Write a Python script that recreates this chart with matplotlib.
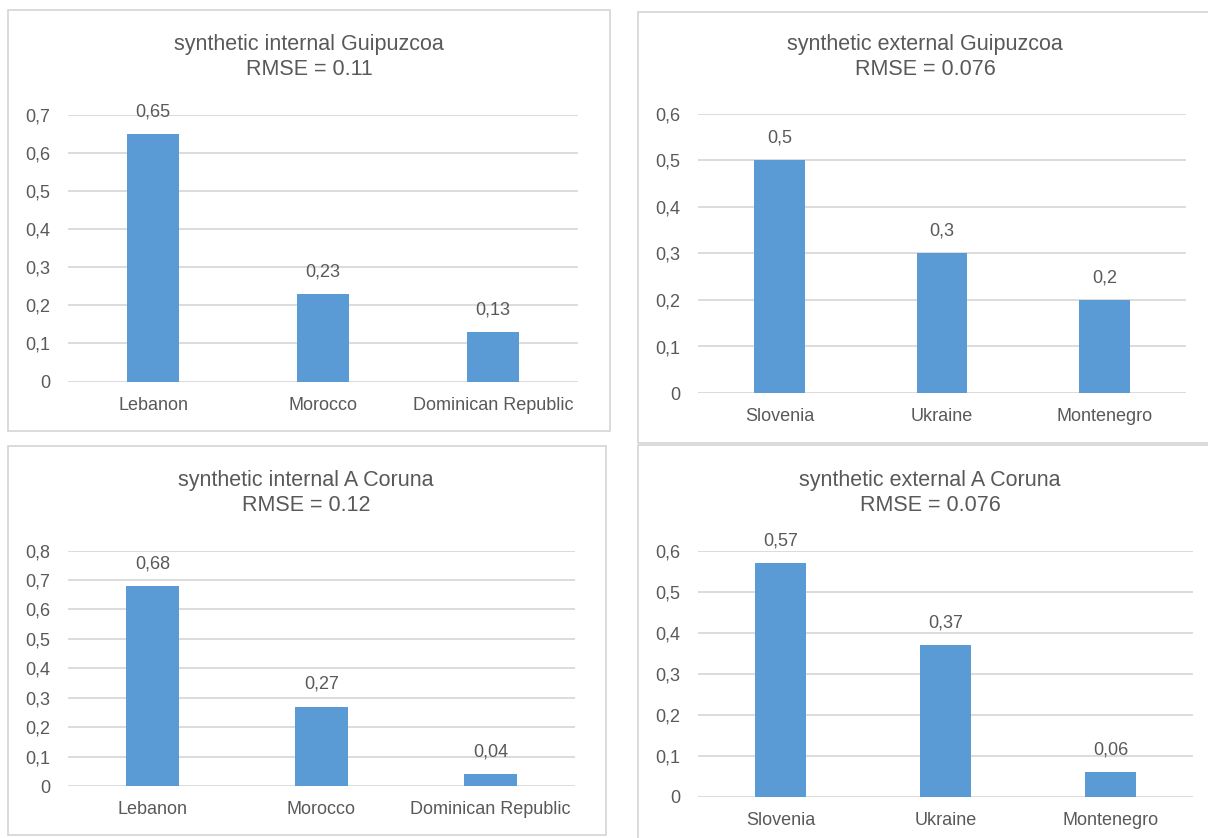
import matplotlib
matplotlib.use("Agg")
import matplotlib.pyplot as plt
from matplotlib.patches import Rectangle
from matplotlib.ticker import FuncFormatter, MultipleLocator

# data for the four synthetic-control panels
internal_countries = ["Lebanon", "Morocco", "Dominican Republic"]
external_countries = ["Slovenia", "Ukraine", "Montenegro"]

guip_internal = [0.65, 0.23, 0.13]
guip_external = [0.5, 0.3, 0.2]
coruna_internal = [0.68, 0.27, 0.04]
coruna_external = [0.57, 0.37, 0.06]

titles = ["synthetic internal Guipuzcoa\nRMSE = 0.11",
          "synthetic external Guipuzcoa\nRMSE = 0.076",
          "synthetic internal A Coruna\nRMSE = 0.12",
          "synthetic external A Coruna\nRMSE = 0.076"]
ymax = [0.7, 0.6, 0.8, 0.6]

W, H = 1208, 838
bar_col = "#5B9BD5"
txt_col = "#595959"
grid_col = "#D9D9D9"

plt.rcParams["font.family"] = ["Liberation Sans", "DejaVu Sans"]

fig = plt.figure(figsize=(W / 100, H / 100), dpi=100)


def px_axes(left, top, right, bottom):
    return fig.add_axes([left / W, 1 - bottom / H, (right - left) / W, (bottom - top) / H])


def frame(left, top, right, bottom):
    r = Rectangle((left / W, 1 - bottom / H), (right - left) / W, (bottom - top) / H,
                  transform=fig.transFigure, fill=False, ec="#D4D4D4", lw=1.2)
    fig.patches.append(r)


def comma(v, pos=None):
    if v == 0:
        return "0"
    return ("%.1f" % v).replace(".", ",")


def panel(ax, cats, vals, top, title, tx, ty):
    x = range(len(cats))
    ax.bar(x, vals, width=0.31, color=bar_col, zorder=3)
    ax.set_xlim(-0.5, len(cats) - 0.5)
    ax.set_ylim(0, top)
    ax.yaxis.set_major_locator(MultipleLocator(0.1))
    ax.yaxis.set_major_formatter(FuncFormatter(comma))
    ax.set_xticks(list(x))
    ax.set_xticklabels(cats)
    ax.grid(axis="y", color=grid_col, lw=1.3, zorder=0)
    ax.set_axisbelow(True)
    for s in ax.spines.values():
        s.set_visible(False)
    ax.tick_params(axis="y", length=0, pad=13, labelsize=13, labelcolor=txt_col)
    ax.tick_params(axis="x", length=0, pad=11, labelsize=13, labelcolor=txt_col)
    for i, v in enumerate(vals):
        ax.annotate(("%g" % v).replace(".", ","), (i, v), xytext=(0, 16),
                    textcoords="offset points", ha="center", va="center",
                    fontsize=13, color=txt_col)
    fig.text(tx / W, 1 - ty / H, title, ha="center", va="center",
             fontsize=15.5, color=txt_col, linespacing=1.2)


frame(8, 10, 610, 431)
frame(638, 12, 1230, 443)
frame(8, 446, 606, 835)
frame(638, 445, 1230, 860)

ax1 = px_axes(68, 115, 578, 381.5)
panel(ax1, internal_countries, guip_internal, ymax[0], titles[0], 309, 57)

ax2 = px_axes(698, 114, 1186, 393)
panel(ax2, external_countries, guip_external, ymax[1], titles[1], 925, 57)

ax3 = px_axes(68, 550.5, 575, 786)
panel(ax3, internal_countries, coruna_internal, ymax[2], titles[2], 306, 493)

ax4 = px_axes(698, 551, 1193, 796.5)
panel(ax4, external_countries, coruna_external, ymax[3], titles[3], 930, 493)

fig.savefig("out.png", dpi=100, facecolor="white")
